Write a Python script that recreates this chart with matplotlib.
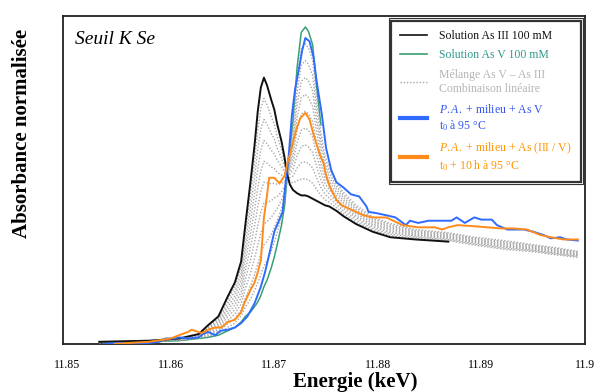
import numpy as np
import matplotlib
matplotlib.use("Agg")
import matplotlib.pyplot as plt
from matplotlib.lines import Line2D
from matplotlib.patches import Rectangle

plt.rcParams['font.family'] = ['Liberation Serif', 'DejaVu Serif']
plt.rcParams['mathtext.fontset'] = 'custom'
plt.rcParams['mathtext.rm'] = 'Liberation Serif'
plt.rcParams['mathtext.it'] = 'Liberation Serif:italic'

# ---------------- data ----------------
# reference spectra on a shared energy grid (keV)
energy_ref = [11.8531, 11.8579, 11.8608, 11.8627, 11.8636, 11.8646, 11.8655, 11.8662, 11.8668, 11.8672,
              11.8677, 11.8681, 11.8684, 11.8687, 11.8690, 11.8693, 11.8697, 11.8700, 11.8703, 11.8707,
              11.8710, 11.8712, 11.8715, 11.8718, 11.8722, 11.8726, 11.8730, 11.8733, 11.8737, 11.8741,
              11.8745, 11.8749, 11.8753, 11.8760, 11.8767, 11.8779, 11.8795, 11.8812, 11.8836, 11.8868,
              11.8893, 11.8922, 11.8950, 11.8974, 11.8993]
as3_abs = [0.02, 0.03, 0.05, 0.09, 0.17, 0.25, 0.43, 0.56, 0.75, 1.08,
           1.47, 1.81, 2.11, 2.33, 2.42, 2.35, 2.22, 2.13, 1.99, 1.84,
           1.69, 1.56, 1.45, 1.40, 1.37, 1.35, 1.35, 1.34, 1.32, 1.30,
           1.28, 1.26, 1.25, 1.21, 1.16, 1.09, 1.02, 0.97, 0.95, 0.93,
           0.89, 0.85, 0.83, 0.80, 0.78]
as3_end = 11.8868  # As III solution spectrum shown up to this energy
as5_abs = [0.01, 0.02, 0.03, 0.05, 0.06, 0.08, 0.12, 0.15, 0.20, 0.25,
           0.29, 0.34, 0.38, 0.44, 0.52, 0.58, 0.69, 0.79, 0.91, 1.08,
           1.26, 1.47, 1.76, 2.02, 2.51, 2.83, 2.88, 2.84, 2.72, 2.33,
           1.99, 1.76, 1.63, 1.49, 1.40, 1.28, 1.17, 1.11, 1.05, 1.02,
           0.98, 0.95, 0.91, 0.88, 0.85]
as5_end = 11.8745  # As V solution spectrum visible up to this energy
# As V fractions of the linear-combination mixtures
mix_fractions = [0.1, 0.2, 0.3, 0.4, 0.5, 0.6, 0.7, 0.8, 0.9]

pa_as5_energy = [11.8536, 11.8550, 11.8565, 11.8579, 11.8589, 11.8595, 11.8603, 11.8608, 11.8617, 11.8627,
                 11.8631, 11.8636, 11.8643, 11.8648, 11.8655, 11.8662, 11.8668, 11.8674, 11.8681, 11.8687,
                 11.8691, 11.8696, 11.8700, 11.8704, 11.8708, 11.8711, 11.8714, 11.8717, 11.8720, 11.8724,
                 11.8727, 11.8730, 11.8734, 11.8738, 11.8741, 11.8746, 11.8750, 11.8755, 11.8760, 11.8767,
                 11.8774, 11.8782, 11.8789, 11.8791, 11.8798, 11.8808, 11.8817, 11.8827, 11.8831, 11.8839,
                 11.8849, 11.8862, 11.8871, 11.8876, 11.8884, 11.8893, 11.8900, 11.8910, 11.8915, 11.8925,
                 11.8941, 11.8950, 11.8960, 11.8967, 11.8976, 11.8982, 11.8993]
pa_as5_abs = [0.00, 0.01, 0.00, 0.01, 0.02, 0.05, 0.05, 0.06, 0.05, 0.06,
              0.09, 0.11, 0.08, 0.12, 0.13, 0.15, 0.19, 0.25, 0.37, 0.52,
              0.65, 0.85, 1.02, 1.11, 1.20, 1.47, 1.72, 2.08, 2.31, 2.51,
              2.67, 2.78, 2.75, 2.60, 2.38, 2.08, 1.78, 1.58, 1.47, 1.42,
              1.36, 1.34, 1.25, 1.20, 1.19, 1.17, 1.15, 1.08, 1.12, 1.10,
              1.12, 1.12, 1.12, 1.15, 1.10, 1.15, 1.13, 1.13, 1.08, 1.04,
              1.04, 1.02, 0.99, 0.96, 0.97, 0.95, 0.94]

pa_mix_energy = [11.8546, 11.8560, 11.8579, 11.8593, 11.8600, 11.8608, 11.8617, 11.8620, 11.8630, 11.8636,
                 11.8643, 11.8649, 11.8655, 11.8662, 11.8668, 11.8671, 11.8677, 11.8681, 11.8684, 11.8687,
                 11.8690, 11.8693, 11.8695, 11.8700, 11.8705, 11.8710, 11.8712, 11.8715, 11.8719, 11.8722,
                 11.8725, 11.8730, 11.8734, 11.8738, 11.8744, 11.8748, 11.8750, 11.8754, 11.8760, 11.8765,
                 11.8772, 11.8786, 11.8795, 11.8808, 11.8824, 11.8839, 11.8855, 11.8862, 11.8868, 11.8877,
                 11.8893, 11.8906, 11.8919, 11.8931, 11.8944, 11.8957, 11.8967, 11.8979, 11.8993]
pa_mix_abs = [0.00, 0.01, 0.02, 0.04, 0.05, 0.08, 0.11, 0.13, 0.10, 0.13,
              0.15, 0.15, 0.20, 0.22, 0.29, 0.37, 0.49, 0.56, 0.65, 0.76,
              1.15, 1.35, 1.51, 1.51, 1.46, 1.53, 1.62, 1.72, 1.87, 1.97,
              2.05, 2.10, 2.04, 1.90, 1.72, 1.63, 1.53, 1.42, 1.31, 1.26,
              1.23, 1.17, 1.15, 1.15, 1.08, 1.06, 1.06, 1.04, 1.06, 1.08,
              1.07, 1.06, 1.05, 1.05, 1.04, 0.99, 0.97, 0.95, 0.95]

xticks = [11.85, 11.86, 11.87, 11.88, 11.89, 11.90]
xtick_labels = ["11.85", "11.86", "11.87", "11.88", "11.89", "11.9"]

# ---------------- figure ----------------
fig = plt.figure(figsize=(6.02, 3.92), dpi=100)
ax = fig.add_axes([63/602, (392-344)/392, 522/602, 328/392])

E = np.array(energy_ref)
a3 = np.array(as3_abs)
a5 = np.array(as5_abs)

c_black = '#111111'
c_green = '#3a9e72'
c_gray = '#a8a8a8'
c_blue = '#2f6bff'
c_orange = '#ff8c1a'

m5 = E <= as5_end
ax.plot(E[m5], a5[m5], color=c_green, lw=1.1, zorder=2)
for f in mix_fractions:
    ax.plot(E, f * a5 + (1 - f) * a3, color=c_gray, lw=1.0, ls=(0, (1, 1.3)), zorder=3)
m3 = E <= as3_end
ax.plot(E[m3], a3[m3], color=c_black, lw=1.4, zorder=4)
ax.plot(pa_as5_energy, pa_as5_abs, color=c_blue, lw=1.4, zorder=5)
ax.plot(pa_mix_energy, pa_mix_abs, color=c_orange, lw=1.4, zorder=6)

ax.set_xlim(11.8496, 11.8993)
ax.set_ylim(0, 2.98)
ax.set_xticks(xticks)
ax.set_xticklabels(xtick_labels, fontsize=8.5)
ax.set_yticks([])
ax.tick_params(axis='x', length=0, pad=11)
for s in ax.spines.values():
    s.set_linewidth(1.3)
    s.set_color('#222222')

ax.set_xlabel("Energie (keV)", fontsize=15, fontweight='bold')
ax.xaxis.set_label_coords((355-63)/522, (344-382)/328)
ax.xaxis.label.set_va('center')
ax.set_ylabel("Absorbance normalisée", fontsize=15, fontweight='bold')
ax.yaxis.set_label_coords((22-63)/522, (344-133)/328)
ax.yaxis.label.set_va('center')

ax.text((75-63)/522, (344-40)/328, "Seuil K Se", transform=ax.transAxes,
        fontsize=14, fontstyle='italic', va='center', ha='left')

handles = [
    Line2D([], [], color=c_black, lw=1.2),
    Line2D([], [], color=c_green, lw=1.2),
    Line2D([], [], color=c_gray, lw=1.0, ls=(0, (1, 1.3))),
    Line2D([], [], color=c_blue, lw=3),
    Line2D([], [], color=c_orange, lw=3),
]
labels = [
    "Solution As III 100 mM",
    "Solution As V 100 mM",
    "Mélange As V – As III\nCombinaison linéaire",
    r"$\mathit{P.A.}$ + milieu + As V" + "\n" + r"t$_0$ à 95 °C",
    r"$\mathit{P.A.}$ + milieu + As (III / V)" + "\n" + r"t$_0$ + 10 h à 95 °C",
]
leg = ax.legend(handles, labels, loc='upper right', bbox_to_anchor=(0.992, 0.985),
                fontsize=8.5, frameon=True, fancybox=False, edgecolor='black',
                handlelength=2.3, handletextpad=1.0, labelspacing=0.65,
                borderpad=0.75, borderaxespad=0.0)
leg.get_frame().set_linewidth(1.6)
text_colors = ['#111111', '#2e9a8c', '#b5b5b5', '#3355ee', '#ff9500']
for t, c in zip(leg.get_texts(), text_colors):
    t.set_color(c)

# double border around the legend
fig.canvas.draw()
bb = leg.get_window_extent().transformed(fig.transFigure.inverted())
dx, dy = 2.5 / 602, 2.5 / 392
fig.patches.append(Rectangle((bb.x0 - dx, bb.y0 - dy), bb.width + 2 * dx, bb.height + 2 * dy,
                             transform=fig.transFigure, fill=False, lw=0.8,
                             edgecolor='#333333', zorder=10))

fig.savefig("out.png", dpi=100)
